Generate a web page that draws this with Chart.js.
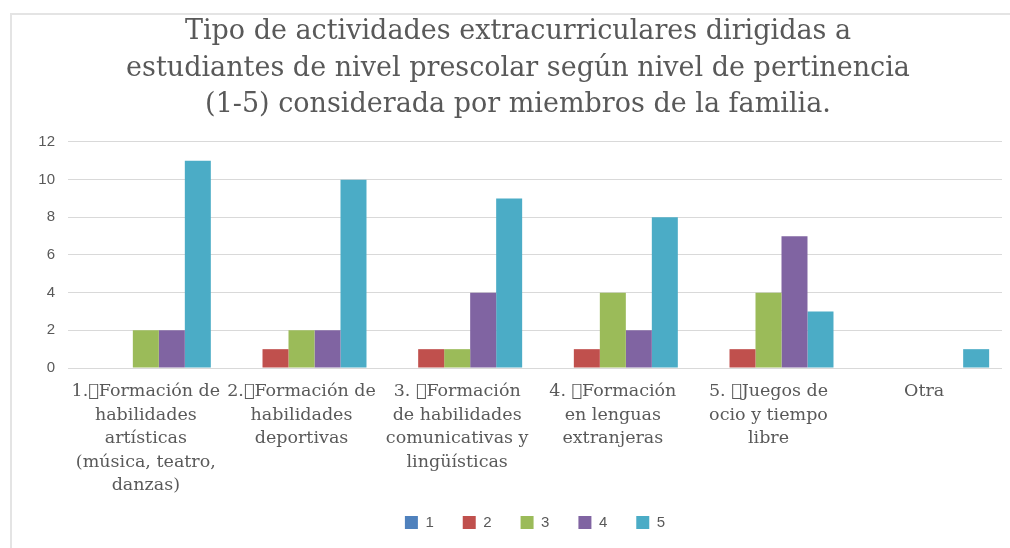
<!DOCTYPE html>
<html>
<head>
<meta charset="utf-8">
<script src="https://cdn.jsdelivr.net/npm/chart.js@4.4.1/dist/chart.umd.min.js"></script>
<style>
  html, body { margin: 0; padding: 0; background: #fff; overflow: hidden; }
  #frame { position: absolute; left: 10px; top: 13px; width: 1100px; height: 600px; border: 2px solid #e4e4e4; box-sizing: border-box; }
  #wrap { position: absolute; left: 0; top: 0; width: 1010px; height: 548px; }
</style>
</head>
<body>
<div id="frame"></div>
<div id="wrap"><canvas id="c" width="1010" height="548"></canvas></div>
<script>
const titleLines = [
  "Tipo de actividades extracurriculares dirigidas a",
  "estudiantes de nivel prescolar según nivel de pertinencia",
  "(1-5) considerada por miembros de la familia."
];
const categories = [
  ["1.\uF0A7Formación de", "habilidades", "artísticas", "(música, teatro,", "danzas)"],
  ["2.\uF0A7Formación de", "habilidades", "deportivas"],
  ["3. \uF0A7Formación", "de habilidades", "comunicativas y", "lingüísticas"],
  ["4. \uF0A7Formación", "en lenguas", "extranjeras"],
  ["5. \uF0A7Juegos de", "ocio y tiempo", "libre"],
  ["Otra"]
];
const seriesNames = ["1", "2", "3", "4", "5"];
const values1 = [0, 0, 0, 0, 0, 0];
const values2 = [0, 1, 1, 1, 1, 0];
const values3 = [2, 2, 1, 4, 4, 0];
const values4 = [2, 2, 4, 2, 7, 0];
const values5 = [11, 10, 9, 8, 3, 1];
const yTicks = [0, 2, 4, 6, 8, 10, 12];
const colors = ["#4F81BD", "#C0504D", "#9BBB59", "#8064A2", "#4BACC6"];

const allValues = [values1, values2, values3, values4, values5];
const datasets = allValues.map((v, i) => ({
  label: seriesNames[i],
  data: v,
  backgroundColor: colors[i],
  borderWidth: 0,
  categoryPercentage: 0.835,
  barPercentage: 1.0
}));

new Chart(document.getElementById('c'), {
  type: 'bar',
  data: { labels: categories, datasets },
  options: {
    responsive: false,
    animation: false,
    layout: { padding: { left: 34, right: 8, top: 0, bottom: 8 } },
    plugins: {
      title: {
        display: true,
        text: titleLines,
        color: '#595959',
        font: { family: 'DejaVu Serif', size: 27, weight: 'normal', lineHeight: 1.37 },
        padding: { top: 13, bottom: 18 }
      },
      legend: {
        display: true,
        position: 'bottom',
        fullSize: false,
        labels: {
          boxWidth: 13,
          boxHeight: 13,
          padding: 29,
          color: '#595959',
          font: { family: 'Liberation Sans', size: 15 }
        }
      },
      tooltip: { enabled: false }
    },
    scales: {
      x: {
        grid: { display: false, drawTicks: false },
        border: { display: false },
        ticks: {
          color: '#595959',
          padding: 12,
          maxRotation: 0,
          autoSkip: false,
          font: { family: 'DejaVu Serif', size: 17.5, lineHeight: 1.343 }
        },
        afterFit: (s) => {
          s.height = 118;
          s._computeLabelArea = function () { return undefined; };
        }
      },
      y: {
        min: 0, max: 12,
        afterBuildTicks: (s) => { s.ticks = yTicks.map(v => ({ value: v })); },
        grid: { color: '#d9d9d9', lineWidth: 1, drawTicks: false },
        border: { display: false },
        ticks: {
          color: '#595959',
          padding: 13,
          font: { family: 'Liberation Sans', size: 15 }
        },
        afterFit: (s) => { s.width = 34; }
      }
    }
  }
});
</script>
</body>
</html>
